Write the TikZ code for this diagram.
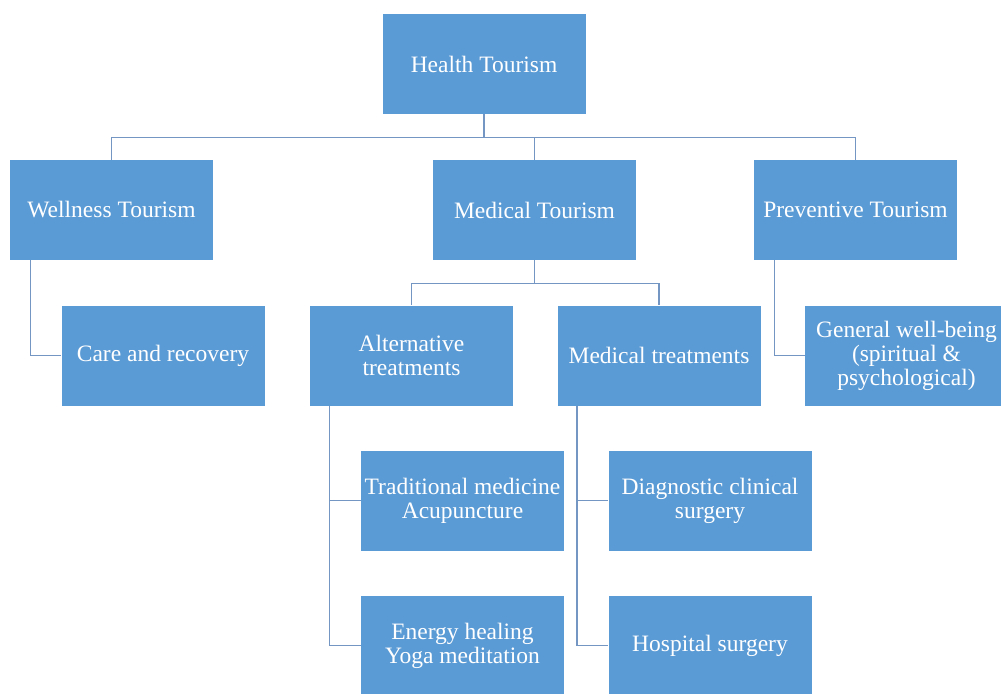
\documentclass[tikz,border=0pt]{standalone}
\usepackage{fontspec}
\setmainfont{Liberation Serif}
\usetikzlibrary{calc}

\definecolor{boxblue}{HTML}{5B9BD5}
\definecolor{linkblue}{HTML}{7397C2}

\tikzset{
  tbox/.style={fill=boxblue, text=white, minimum width=101.5pt, minimum height=50pt,
    inner sep=1pt, align=center, font=\fontsize{11.75}{12}\selectfont},
  link/.style={draw=linkblue, line width=0.85pt}
}

\begin{document}
\begin{tikzpicture}[x=0.5pt,y=-0.5pt]
            \useasboundingbox (0,0) rectangle (1001,693);
            \clip (0,0) rectangle (1001,693);
            \node[tbox] (health) at (484,64) {Health Tourism};
            \node[tbox] (wellness) at (111.5,210) {Wellness Tourism};
            \node[tbox] (medical) at (534.5,210) {Medical Tourism};
            \node[tbox] (preventive) at (855.5,210) {Preventive Tourism};
            \node[tbox] (care) at (163,355.5) {Care and recovery};
            \node[tbox] (alternative) at (411.5,355.5) {Alternative\\treatments};
            \node[tbox] (treatments) at (659,355.5) {Medical treatments};
            \node[tbox] (wellbeing) at (906.5,355.5) {General well-being\\(spiritual \&\\psychological)};
            \node[tbox] (traditional) at (462.5,500.5) {Traditional medicine\\Acupuncture};
            \node[tbox] (diagnostic) at (710,500.5) {Diagnostic clinical\\surgery};
            \node[tbox] (energy) at (462.5,645.5) {Energy healing\\Yoga meditation};
            \node[tbox] (hospital) at (710,645.5) {Hospital surgery};
            \coordinate (hsplit) at ($(health.south)+(0,23)$);
            \coordinate (msplit) at ($(medical.south)+(0,23)$);
            \draw[link] (health.south) -- (hsplit) -| (wellness.north);
            \draw[link] (hsplit) -| (medical.north);
            \draw[link] (hsplit) -| (preventive.north);
            \draw[link] (medical.south) -- (msplit) -| (alternative.north);
            \draw[link] (msplit) -| (treatments.north);
            \draw[link] ([xshift=10.5pt]wellness.south west) |- (care.west);
            \draw[link] ([xshift=10.5pt]preventive.south west) |- (wellbeing.west);
            \draw[link] ([xshift=10pt]alternative.south west) |- (traditional.west);
            \draw[link] ([xshift=10pt]alternative.south west) |- (energy.west);
            \draw[link] ([xshift=10pt]treatments.south west) |- (diagnostic.west);
            \draw[link] ([xshift=10pt]treatments.south west) |- (hospital.west);
        \end{tikzpicture}
\end{document}
